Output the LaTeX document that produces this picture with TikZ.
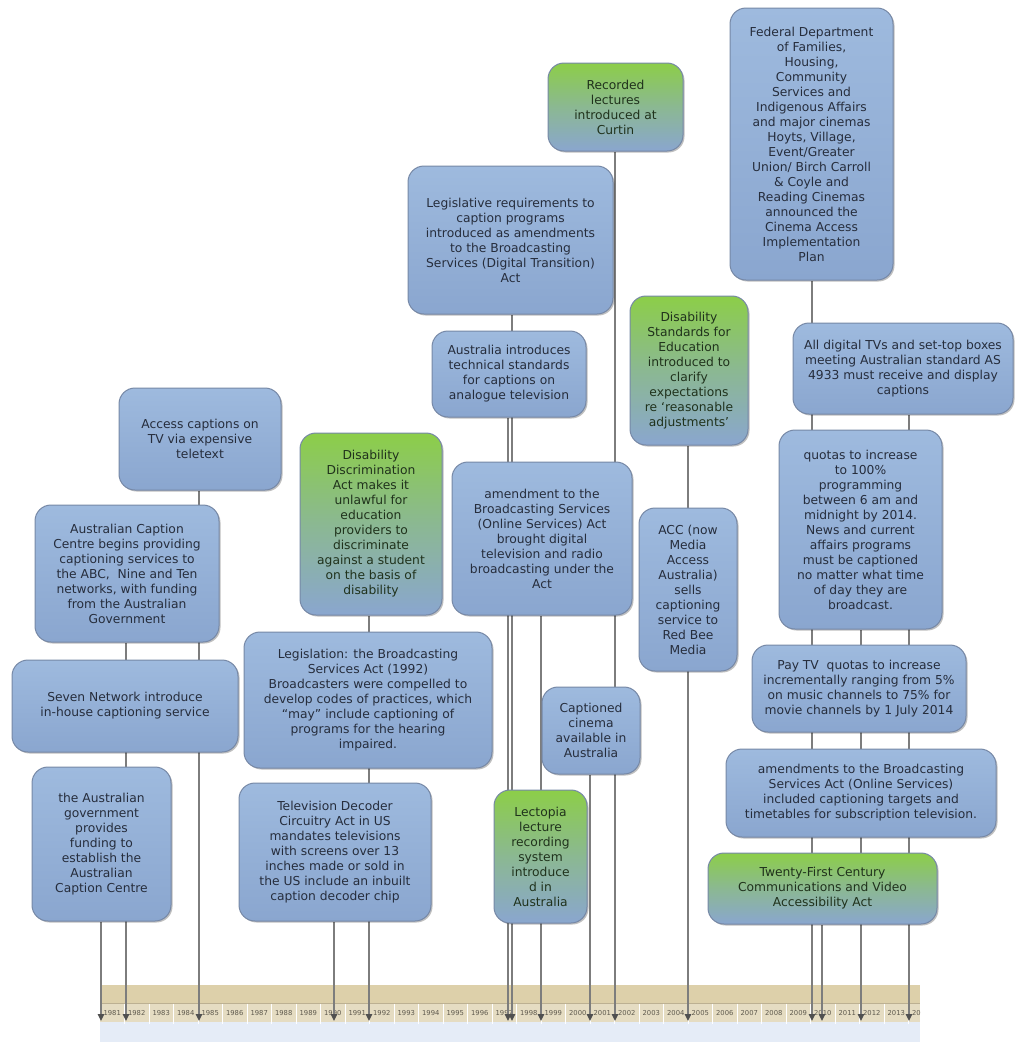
\documentclass[tikz,border=0pt]{standalone}
\usepackage{fontspec}
\setmainfont{DejaVu Sans}
\usetikzlibrary{arrows.meta,shadows}
\pgfdeclarelayer{bg}
\pgfsetlayers{bg,main}
\definecolor{bluetop}{RGB}{158,186,222}
\definecolor{bluebot}{RGB}{138,166,207}
\definecolor{greentop}{RGB}{140,206,72}
\definecolor{boxedge}{RGB}{118,136,166}
\definecolor{txtblue}{RGB}{38,45,60}
\definecolor{txtgreen}{RGB}{32,50,28}
\definecolor{connc}{RGB}{125,125,125}
\definecolor{arrowc}{RGB}{80,80,80}
\definecolor{tanA}{RGB}{221,208,170}
\definecolor{tanB}{RGB}{229,220,194}
\definecolor{tanline}{RGB}{188,176,146}
\definecolor{axisblue}{RGB}{229,236,247}
\definecolor{yeartxt}{RGB}{95,90,78}
\newcommand\evbox[7]{%
  \pgfmathsetmacro\evbw{#4-#2}\pgfmathsetmacro\evbh{#5-#3}%
  \node[#6, minimum width=\evbw pt, minimum height=\evbh pt] (#1) at ({(#2+#4)/2},{(#3+#5)/2}) {#7};}
\tikzset{
  evbase/.style={rounded corners=16pt, draw=boxedge, line width=1pt, align=center,
    inner sep=2pt, font=\fontsize{12.3}{15}\selectfont,
    drop shadow={shadow xshift=1.5pt, shadow yshift=-1.5pt, opacity=0.25, fill=black}},
  bluebox/.style={evbase, top color=bluetop, bottom color=bluebot, text=txtblue},
  greenbox/.style={evbase, top color=greentop, bottom color=bluebot,
    middle color=greentop!45!bluebot, text=txtgreen},
  conn/.style={draw=connc, line width=1.4pt,
    -{Triangle[length=7pt,width=6.5pt,color=arrowc,fill=arrowc]}},
  yearlbl/.style={font=\fontsize{6.8}{7}\selectfont, text=yeartxt, inner sep=0pt}
}
\begin{document}
\begin{tikzpicture}[x=1pt,y=-1pt]
\useasboundingbox (0,0) rectangle (1016,1042);

% ---------------- event boxes ----------------
\evbox{b1}{119}{388}{281}{490}{bluebox}{Access captions on\\TV via expensive\\teletext}
\evbox{b2}{35}{505}{219}{642}{bluebox}{Australian Caption\\Centre begins providing\\captioning services to\\the ABC,~ Nine and Ten\\networks, with funding\\from the Australian\\Government}
\evbox{b3}{12}{660}{238}{752}{bluebox}{Seven Network introduce\\in-house captioning service}
\evbox{b4}{32}{767}{171}{921}{bluebox}{the Australian\\government\\provides\\funding to\\establish the\\Australian\\Caption Centre}
\evbox{b5}{300}{433}{442}{615}{greenbox}{Disability\\Discrimination\\Act makes it\\unlawful for\\education\\providers to\\discriminate\\against a student\\on the basis of\\disability}
\evbox{b6}{244}{632}{492}{768}{bluebox}{Legislation: the Broadcasting\\Services Act (1992)\\Broadcasters were compelled to\\develop codes of practices, which\\“may” include captioning of\\programs for the hearing\\impaired.}
\evbox{b7}{239}{783}{431}{921}{bluebox}{Television Decoder\\Circuitry Act in US\\mandates televisions\\with screens over 13\\inches made or sold in\\the US include an inbuilt\\caption decoder chip}
\evbox{b8}{548}{63}{683}{151}{greenbox}{Recorded\\lectures\\introduced at\\Curtin}
\evbox{b9}{408}{166}{613}{314}{bluebox}{Legislative requirements to\\caption programs\\introduced as amendments\\to the Broadcasting\\Services (Digital Transition)\\Act}
\evbox{b10}{432}{331}{586}{417}{bluebox}{Australia introduces\\technical standards\\for captions on\\analogue television}
\evbox{b11}{452}{462}{632}{615}{bluebox}{amendment to the\\Broadcasting Services\\(Online Services) Act\\brought digital\\television and radio\\broadcasting under the\\Act}
\evbox{b12}{630}{296}{748}{445}{greenbox}{Disability\\Standards for\\Education\\introduced to\\clarify\\expectations\\re ‘reasonable\\adjustments’}
\evbox{b13}{639}{508}{737}{671}{bluebox}{ACC (now\\Media\\Access\\Australia)\\sells\\captioning\\service to\\Red Bee\\Media}
\evbox{b14}{542}{687}{640}{774}{bluebox}{Captioned\\cinema\\available in\\Australia}
\evbox{b15}{494}{790}{587}{923}{greenbox}{Lectopia\\lecture\\recording\\system\\introduce\\d in\\Australia}
\evbox{b16}{730}{8}{893}{280}{bluebox}{Federal Department\\of Families,\\Housing,\\Community\\Services and\\Indigenous Affairs\\and major cinemas\\Hoyts, Village,\\Event/Greater\\Union/ Birch Carroll\\\& Coyle and\\Reading Cinemas\\announced the\\Cinema Access\\Implementation\\Plan}
\evbox{b17}{793}{323}{1013}{414}{bluebox}{All digital TVs and set-top boxes\\meeting Australian standard AS\\4933 must receive and display\\captions}
\evbox{b18}{779}{430}{942}{629}{bluebox}{quotas to increase\\to 100\%\\programming\\between 6 am and\\midnight by 2014.\\News and current\\affairs programs\\must be captioned\\no matter what time\\of day they are\\broadcast.}
\evbox{b19}{752}{645}{966}{732}{bluebox}{Pay TV~ quotas to increase\\incrementally ranging from 5\%\\on music channels to 75\% for\\movie channels by 1 July 2014}
\evbox{b20}{726}{749}{996}{837}{bluebox}{amendments to the Broadcasting\\Services Act (Online Services)\\included captioning targets and\\timetables for subscription television.}
\evbox{b21}{708}{853}{937}{924}{greenbox}{Twenty-First Century\\Communications and Video\\Accessibility Act}

% ---------------- timeline axis ----------------
\begin{pgfonlayer}{bg}
  \fill[white] (0,0) rectangle (1016,1042);
  \fill[tanA] (100,985) rectangle (920,1003);
  \fill[tanB] (100,1003) rectangle (920,1022);
  \fill[axisblue] (100,1022) rectangle (920,1042);
  \draw[tanline, line width=0.8pt] (100,1003) -- (920,1003);
  \begin{scope}
    \clip (100,985) rectangle (920,1042);
    \foreach \i in {0,...,33} {
      \pgfmathsetmacro\xl{100+24.5*\i}
      \pgfmathtruncatemacro\yr{1981+\i}
      \draw[white, line width=0.9pt] (\xl+24.5,1003.5) -- (\xl+24.5,1024);
      \node[yearlbl] (yl\i) at (\xl+12.25,1013) {\yr};
    }
  \end{scope}
  % arrow targets on the axis
  \coordinate (t81) at (101,1021);
  \coordinate (t82) at (126,1021);
  \coordinate (t85) at (199,1021);
  \coordinate (t90) at (334,1021);
  \coordinate (t92) at (369,1021);
  \coordinate (t97a) at (508,1021);
  \coordinate (t97b) at (512,1021);
  \coordinate (t98) at (541,1021);
  \coordinate (t00) at (590,1021);
  \coordinate (t01) at (615,1021);
  \coordinate (t04) at (688,1021);
  \coordinate (t09) at (812,1021);
  \coordinate (t10) at (822,1021);
  \coordinate (t11) at (861,1021);
  \coordinate (t13) at (909,1021);
  % connectors (behind the boxes)
  \draw[conn] (b4.south -| t81) -- (t81);
  \draw[conn] (b2.south -| t82) -- (t82);
  \draw[conn] (b1.south -| t85) -- (t85);
  \draw[conn] (b7.south -| t90) -- (t90);
  \draw[conn] (b5.south -| t92) -- (t92);
  \draw[conn] (b10.south -| t97a) -- (t97a);
  \draw[conn] (b9.south -| t97b) -- (t97b);
  \draw[conn] (b11.south -| t98) -- (t98);
  \draw[conn] (b14.south -| t00) -- (t00);
  \draw[conn] (b8.south -| t01) -- (t01);
  \draw[conn] (b12.south -| t04) -- (t04);
  \draw[conn] (b16.south -| t09) -- (t09);
  \draw[conn] (b21.south -| t10) -- (t10);
  \draw[conn] (b18.south -| t11) -- (t11);
  \draw[conn] (b17.south -| t13) -- (t13);
\end{pgfonlayer}
\end{tikzpicture}
\end{document}
